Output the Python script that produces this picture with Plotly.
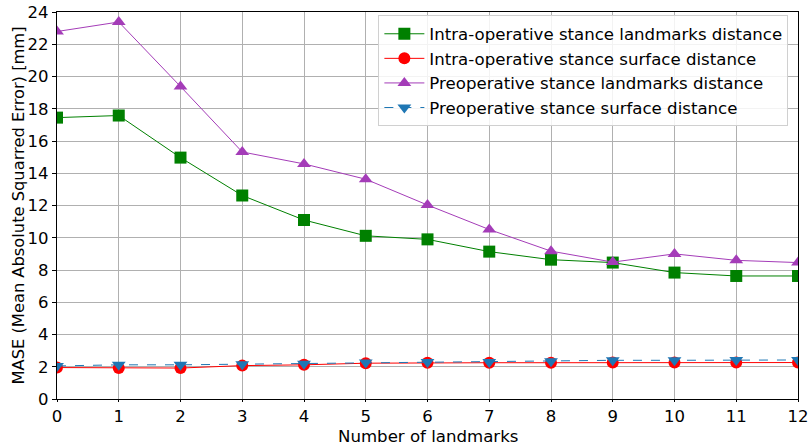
import plotly.graph_objects as go

landmarks = list(range(13))
intra_landmarks = [17.45, 17.58, 14.97, 12.62, 11.1, 10.12, 9.9, 9.14, 8.64, 8.46, 7.84, 7.63, 7.63]
intra_surface = [1.95, 1.92, 1.92, 2.07, 2.12, 2.22, 2.25, 2.25, 2.25, 2.26, 2.26, 2.26, 2.26]
pre_landmarks = [22.79, 23.38, 19.38, 15.32, 14.58, 13.63, 12.03, 10.51, 9.17, 8.49, 9.0, 8.6, 8.46]
pre_surface = [2.05, 2.12, 2.12, 2.16, 2.18, 2.26, 2.3, 2.3, 2.34, 2.4, 2.4, 2.42, 2.42]

x_title = "Number of landmarks"
y_title = "MASE (Mean Absolute Squarred Error) [mm]"

series = [
    ("Intra-operative stance landmarks distance", intra_landmarks, "#008000", "square", "solid"),
    ("Intra-operative stance surface distance", intra_surface, "#ff0000", "circle", "solid"),
    ("Preoperative stance landmarks distance", pre_landmarks, "#a43cb8", "triangle-up", "solid"),
    ("Preoperative stance surface distance", pre_surface, "#1f77b4", "triangle-down", "dash"),
]

fig = go.Figure()
for name, vals, color, sym, dash in series:
    fig.add_trace(go.Scatter(
        x=landmarks, y=vals, name=name, mode="lines+markers",
        line=dict(color=color, width=1, dash=dash),
        marker=dict(symbol=sym, size=12, color=color, line=dict(width=0)),
        cliponaxis=True,
    ))

fig.update_layout(
    width=811, height=448,
    margin=dict(l=57, r=13, t=12, b=49, autoexpand=False),
    paper_bgcolor="white", plot_bgcolor="white",
    font=dict(family="DejaVu Sans", size=16.5, color="black"),
    legend=dict(
        x=0.987, y=0.991, xanchor="right", yanchor="top",
        bgcolor="rgba(255,255,255,0.85)", bordercolor="#d0d0d0", borderwidth=1,
        font=dict(size=16.6), tracegroupgap=0, itemwidth=40,
    ),
    showlegend=True,
    annotations=[
        dict(text=x_title, xref="paper", yref="paper", x=0.5, y=-0.098,
             showarrow=False, xanchor="center", yanchor="middle", font=dict(size=16.6)),
        dict(text=y_title, xref="paper", yref="paper", x=0, xshift=-39, y=0.5, textangle=-90,
             showarrow=False, xanchor="center", yanchor="middle", font=dict(size=16.3)),
    ],
)
fig.update_xaxes(
    range=[0, 12], tickmode="linear", dtick=1, automargin=False,
    showgrid=True, gridcolor="#b0b0b0", gridwidth=1,
    showline=True, linecolor="black", linewidth=1.3, mirror=True,
    ticks="outside", ticklen=2, tickcolor="black",
    zeroline=False,
)
fig.update_yaxes(
    range=[0, 24], tickmode="linear", dtick=2, automargin=False,
    showgrid=True, gridcolor="#b0b0b0", gridwidth=1,
    showline=True, linecolor="black", linewidth=1.3, mirror=True,
    ticks="outside", ticklen=4, tickcolor="black",
    zeroline=False,
)

fig.write_html("out.html")
